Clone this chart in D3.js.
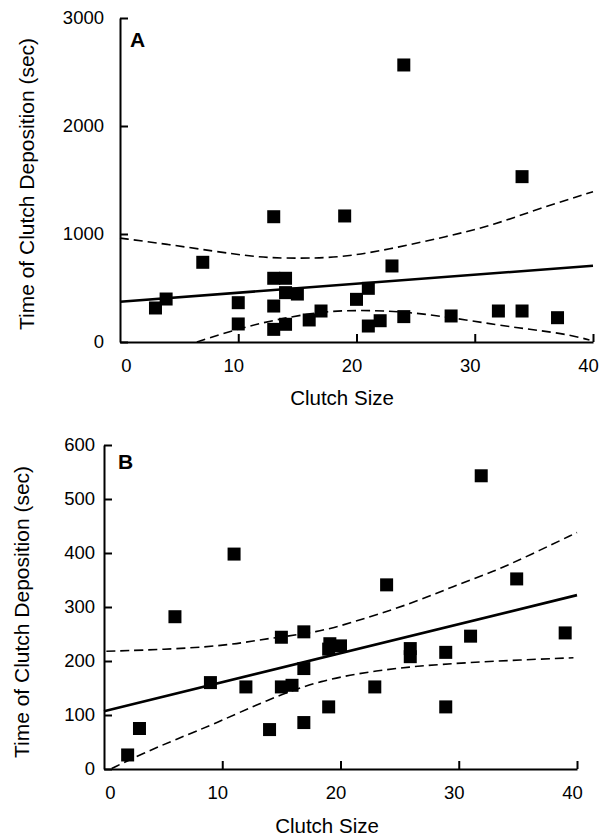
<html>
  <head>
    <title>clutch deposition</title>
    <script src="https://d3js.org/d3.v7.min.js"></script>
    <style>
      body { margin: 0; background: #fff; }
      text { font-family: "Liberation Sans", Arial, sans-serif; fill: #000; }
    </style>
  </head>
  <body>
    <div id='wrapper'></div>
    <script>
      // Panel A data
      var xTicks = [0, 10, 20, 30, 40];
      var aYTicks = [0, 1000, 2000, 3000];
      var aPoints = [
        [3, 315], [3.9, 398], [7, 738], [10, 364], [10, 167],
        [13, 1160], [13, 590], [14, 590], [13, 333], [13, 117],
        [14, 164], [14, 457], [15, 444], [16, 204], [17, 287],
        [19, 1167], [20, 395], [21, 497], [21, 148], [22, 197],
        [23, 704], [24, 2565], [24, 235], [28, 241], [32, 287],
        [34, 1531], [34, 287], [37, 225]
      ];
      var aFit = [[0, 373], [40, 706]];
      var aUpper = [[0, 962], [4, 905], [8, 840], [11.3, 790], [13.5, 775], [18.6, 775],
        [23.1, 867], [27.6, 975], [31.6, 1083], [35.5, 1238], [40, 1392]];
      var aLower = [[6.5, 0], [9.6, 111], [13, 204], [16.9, 281], [20, 296], [24.5, 281],
        [29.3, 204], [33.8, 127], [37.5, 80], [39.7, 19]];

      // Panel B data
      var bYTicks = [0, 100, 200, 300, 400, 500, 600];
      var bPoints = [
        [2, 26], [3, 75], [6, 282], [9, 160], [11, 398], [12, 152],
        [14, 73], [15, 244], [15, 152], [15.9, 155], [16.9, 254], [16.9, 186],
        [16.9, 86], [19, 115], [19, 222], [19.1, 232], [20, 228], [22.9, 152],
        [23.9, 341], [25.9, 223], [25.9, 208], [28.9, 216], [28.9, 115],
        [31, 246], [31.9, 543], [34.9, 352], [39, 252]
      ];
      var bFit = [[0, 107], [40, 322]];
      var bUpper = [[0.2, 218], [6.1, 222], [10.9, 230], [13.8, 242], [18.3, 253],
        [22.5, 282], [26.2, 308], [29.5, 338], [32.9, 365], [36, 396], [40, 438]];
      var bLower = [[0.65, 1], [3.3, 29], [6.1, 55], [9.5, 85], [13.8, 128], [18.3, 165],
        [23.3, 183], [26.7, 191], [30.7, 197], [35.2, 202], [39.7, 206]];

      var svg = d3.select("#wrapper").append("svg")
        .attr("width", 604)
        .attr("height", 839);

      function drawPanel(p) {
        var x = d3.scaleLinear().domain([0, 40]).range([p.left, p.left + 473]);
        var y = d3.scaleLinear().domain([0, p.yMax]).range([p.bottom, p.bottom - 324]);

        var yAxis = svg.append("g")
          .attr("transform", "translate(" + p.left + ",0)")
          .call(d3.axisLeft(y).tickValues(p.yTicks).tickFormat(d3.format("d"))
            .tickSizeInner(-8).tickSizeOuter(0).tickPadding(p.yPad));
        var xAxis = svg.append("g")
          .attr("transform", "translate(0," + p.bottom + ")")
          .call(d3.axisBottom(x).tickValues(xTicks).tickFormat(d3.format("d"))
            .tickSizeInner(-8).tickSizeOuter(0).tickPadding(17));

        [xAxis, yAxis].forEach(function(g) {
          g.select(".domain").attr("stroke-width", 2);
          g.selectAll(".tick line").attr("stroke-width", 2);
          g.selectAll(".tick text").style("font-size", "18.5px")
            .style("font-family", "'Liberation Sans', Arial, sans-serif");
        });
        xAxis.selectAll(".tick text").attr("dx", function(d) { return d == 0 ? 6 : -5; });
        xAxis.selectAll(".tick").filter(function(d) { return d == 0; }).select("line").remove();

        var line = d3.line().x(function(d) { return x(d[0]); }).y(function(d) { return y(d[1]); });

        svg.append("path").attr("d", line.curve(d3.curveBasis)(p.upper))
          .attr("fill", "none").attr("stroke", "#000").attr("stroke-width", 1.6)
          .attr("stroke-dasharray", "9,5");
        svg.append("path").attr("d", line.curve(d3.curveBasis)(p.lower))
          .attr("fill", "none").attr("stroke", "#000").attr("stroke-width", 1.6)
          .attr("stroke-dasharray", "9,5");
        svg.append("path").attr("d", line.curve(d3.curveLinear)(p.fit))
          .attr("fill", "none").attr("stroke", "#000").attr("stroke-width", 2.6);

        svg.selectAll(null).data(p.points).enter().append("rect")
          .attr("x", function(d) { return x(d[0]) - 6.5; })
          .attr("y", function(d) { return y(d[1]) - 6.5; })
          .attr("width", 13).attr("height", 13)
          .attr("fill", "#000");

        svg.append("text")
          .attr("x", p.letterX).attr("y", p.letterY)
          .style("font-size", "21px").style("font-weight", "bold")
          .text(p.letter);

        svg.append("text")
          .attr("transform", "translate(" + p.yLabelX + "," + p.yLabelY + ") rotate(-90)")
          .style("text-anchor", "middle")
          .style("font-size", "21px")
          .text("Time of Clutch Deposition (sec)");

        svg.append("text")
          .attr("x", p.xLabelX).attr("y", p.xLabelY)
          .style("text-anchor", "middle")
          .style("font-size", "20.5px")
          .text("Clutch Size");
      }

      drawPanel({ left: 120, bottom: 342, yMax: 3000, yTicks: aYTicks, yPad: 16,
        points: aPoints, fit: aFit, upper: aUpper, lower: aLower,
        letter: "A", letterX: 130, letterY: 47,
        yLabelX: 34, yLabelY: 184, xLabelX: 342, xLabelY: 405 });

      drawPanel({ left: 104, bottom: 769, yMax: 600, yTicks: bYTicks, yPad: 9,
        points: bPoints, fit: bFit, upper: bUpper, lower: bLower,
        letter: "B", letterX: 118, letterY: 469,
        yLabelX: 29, yLabelY: 612, xLabelX: 327, xLabelY: 833 });
    </script>
  </body>
</html>
